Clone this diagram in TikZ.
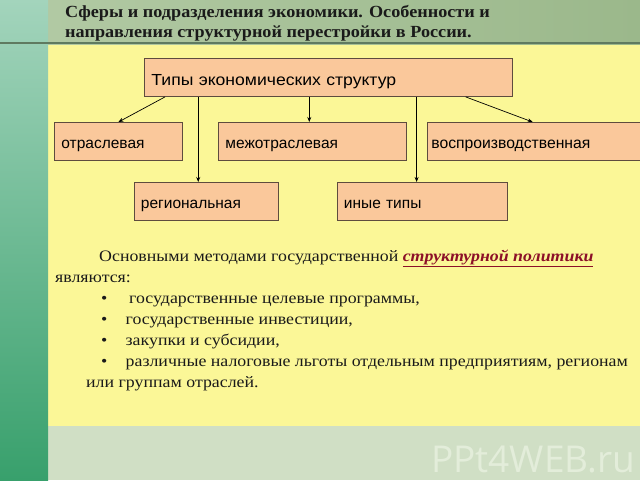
\documentclass[tikz,border=0pt]{standalone}
\usepackage{fontspec}
\setmainfont{Liberation Serif}
\setsansfont{Liberation Sans}
\newfontfamily\wmfont{Open Sans}
\newfontfamily\bodyfont[FakeStretch=1.115]{Liberation Serif}
\newfontfamily\titlefont[FakeStretch=1.07]{Liberation Serif}
\newfontfamily\topfont[FakeStretch=1.1]{Liberation Sans}
\usetikzlibrary{calc,arrows.meta}
\definecolor{yel}{HTML}{FBF797}
\definecolor{boxfill}{HTML}{FAC89B}
\definecolor{boxline}{HTML}{5E4C3E}
\definecolor{bandcol}{HTML}{D0DFC5}
\definecolor{wmcol}{HTML}{E3EDDA}
\definecolor{stripTop}{HTML}{A3D4BC}
\definecolor{stripBot}{HTML}{38A06C}
\definecolor{headL}{HTML}{B1C9A3}
\definecolor{headR}{HTML}{9BB88B}
\definecolor{headline}{HTML}{5F7A60}
\definecolor{redt}{HTML}{8C1028}
\definecolor{bodytext}{HTML}{1A1A1A}
\begin{document}
\begin{tikzpicture}[x=1pt,y=-1pt,
  box/.style={draw=boxline, line width=0.9pt, fill=boxfill, anchor=north west,
    inner xsep=7pt, inner ysep=0pt, align=left, minimum height=38pt,
    font=\sffamily\fontsize{15.5}{16}\selectfont, text height=14pt, text depth=0pt},
  arr/.style={-{Stealth[length=5pt,width=4pt]}, line width=0.7pt, draw=black},
  body/.style={anchor=base west, inner sep=0pt, font=\bodyfont\fontsize{16}{19}\selectfont, text=bodytext},
  title/.style={anchor=base west, inner sep=0pt, font=\titlefont\bfseries\fontsize{17}{20}\selectfont, text=bodytext}]
\useasboundingbox (0,0) rectangle (640,480);
% backgrounds
\fill[yel] (48,44) rectangle (640,426);
\fill[bandcol] (48,426) rectangle (640,480);
\shade[left color=headL, right color=headR] (48,0) rectangle (640,44);
\shade[top color=stripTop, bottom color=stripBot] (0,0) rectangle (48,480);
\draw[headline, line width=1.2pt] (0,43) -- (640,43);
% watermark
\node[anchor=base west, inner sep=0pt, text=wmcol, font=\wmfont\fontsize{37}{40}\selectfont] (wm) at (431,472) {PPt4WEB.ru};
% title
\node[title] (t1) at (65,17) {Сферы и подразделения экономики. Особенности и};
\node[title] (t2) at (65,37.5) {направления структурной перестройки в России.};
% boxes
\node[box, minimum width=368pt, text width=354pt, text height=16pt, font=\topfont\fontsize{16}{17}\selectfont] (top) at (144,58) {Типы экономических структур};
\node[box, minimum width=128pt, text width=114pt] (otr) at (54,122) {отраслевая};
\node[box, minimum width=188pt, text width=174pt] (mezh) at (218,122) {межотраслевая};
\node[box, minimum width=216pt, text width=209pt, inner xsep=4pt, font=\sffamily\fontsize{15.7}{16}\selectfont] (vosp) at (427,122) {воспроизводственная};
\node[box, minimum width=144pt, text width=131pt, inner xsep=6.5pt] (reg) at (134,182) {региональная};
\node[box, minimum width=170pt, text width=157pt, inner xsep=6.5pt] (inye) at (337,182) {иные типы};
% arrow start points on the bottom edge of the top box
\coordinate (s1) at ($(top.south west)!0.057!(top.south east)$);
\coordinate (s2) at ($(top.south west)!0.147!(top.south east)$);
\coordinate (s3) at ($(top.south west)!0.448!(top.south east)$);
\coordinate (s4) at ($(top.south west)!0.739!(top.south east)$);
\coordinate (s5) at ($(top.south west)!0.872!(top.south east)$);
\draw[arr] (s1) -- (otr.north);
\draw[arr] (s2) -- (s2 |- reg.north);
\draw[arr] (s3) -- (s3 |- mezh.north);
\draw[arr] (s4) -- (s4 |- inye.north);
\draw[arr] (s5) -- ($(vosp.north west)!0.485!(vosp.north east)$);
% body text
\node[body] (l1) at (99,261) {Основными методами государственной {\color{redt}\bfseries\itshape\underline{структурной политики}}};
\node[body] (l2) at (55,282) {являются:};
\node[body] (b1) at (101,303) {•};
\node[body] (l3) at (129,303) {государственные целевые программы,};
\node[body] (b2) at (101,324) {•};
\node[body] (l4) at (125.5,324) {государственные инвестиции,};
\node[body] (b3) at (101,345) {•};
\node[body] (l5) at (125.5,345) {закупки и субсидии,};
\node[body] (b4) at (101,366) {•};
\node[body] (l6) at (125.5,366) {различные налоговые льготы отдельным предприятиям, регионам};
\node[body] (l7) at (86,387) {или группам отраслей.};
\end{tikzpicture}
\end{document}
